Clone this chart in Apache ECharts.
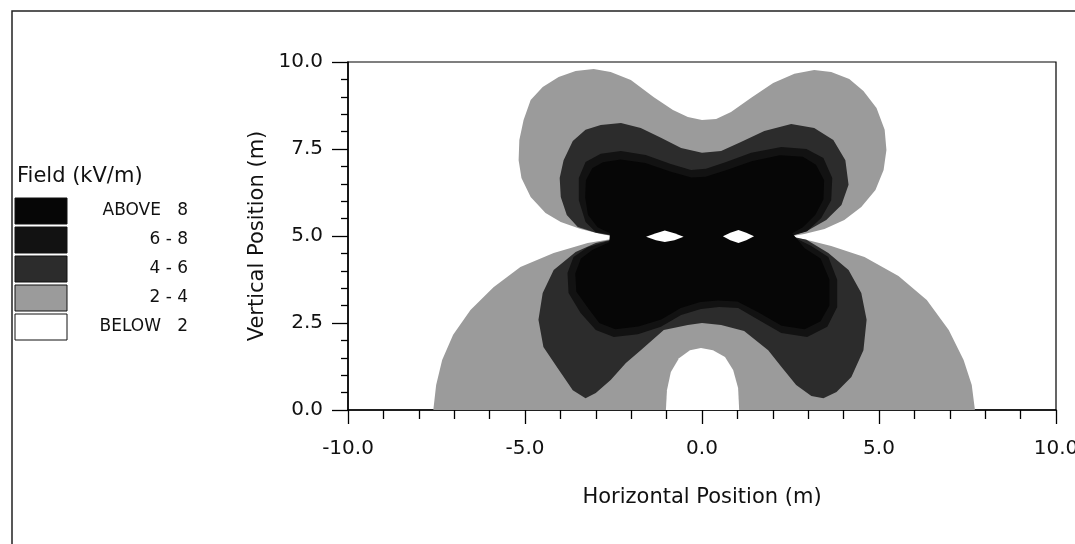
<!DOCTYPE html>
<html><head><meta charset="utf-8">
<script src="https://cdn.jsdelivr.net/npm/echarts@6/dist/echarts.min.js"></script>
<style>html,body{margin:0;padding:0;background:#fff}#c{width:1075px;height:544px}</style>
</head><body><div id="c"></div>
<script>
// ---- tick labels ----
const xTickLabels = ['-10.0', '-5.0', '0.0', '5.0', '10.0'];
const yTickLabels = ['0.0', '2.5', '5.0', '7.5', '10.0'];

// ---- legend ----
const legendTitle = 'Field (kV/m)';
const legendLabels = ['ABOVE   8', '6 - 8', '4 - 6', '2 - 4', 'BELOW   2'];
const levelColors = ['#060606', '#121212', '#2c2c2c', '#9b9b9b', '#ffffff'];

// ---- contour regions (data units: metres) ----
const field2to4 = [
  [-2.38,4.97],[-2.86,5.06],[-3.43,5.20],[-3.99,5.40],[-4.42,5.66],[-4.84,6.12],[-5.10,6.67],[-5.18,7.18],
  [-5.16,7.76],[-5.04,8.33],[-4.84,8.91],[-4.50,9.28],[-4.05,9.57],[-3.57,9.74],[-3.06,9.80],[-2.58,9.71],
  [-2.01,9.48],[-1.36,8.99],[-0.82,8.62],[-0.40,8.42],[0.00,8.33],[0.40,8.36],[0.82,8.56],[1.39,8.97],
  [2.01,9.40],[2.61,9.66],[3.17,9.77],[3.65,9.71],[4.16,9.51],[4.56,9.17],[4.93,8.68],[5.16,8.05],
  [5.21,7.47],[5.13,6.90],[4.90,6.32],[4.50,5.83],[4.02,5.46],[3.46,5.20],[2.89,5.06],[2.38,4.97],
  [2.89,4.91],[3.65,4.71],[4.59,4.40],[5.55,3.85],[6.35,3.16],[6.97,2.30],[7.39,1.44],[7.62,0.72],
  [7.71,0.00],[-7.59,0.00],[-7.51,0.72],[-7.34,1.44],[-7.03,2.16],[-6.54,2.87],[-5.89,3.53],[-5.13,4.11],
  [-4.19,4.51],[-3.23,4.80],[-2.38,4.94]
];
const holeBelow2 = [
  [-1.02,0.00],[-0.99,0.57],[-0.88,1.09],[-0.65,1.49],[-0.34,1.72],[-0.03,1.78],[0.31,1.72],[0.65,1.52],
  [0.88,1.15],[1.02,0.63],[1.05,0.00]
];
const field4to6 = [
  [-2.49,5.00],[-3.00,5.09],[-3.51,5.26],[-3.82,5.60],[-3.99,6.12],[-4.02,6.67],[-3.91,7.18],[-3.65,7.73],
  [-3.29,8.05],[-2.86,8.19],[-2.29,8.25],[-1.73,8.10],[-1.16,7.82],[-0.59,7.53],[0.00,7.39],[0.54,7.44],
  [1.10,7.70],[1.76,8.02],[2.52,8.22],[3.17,8.10],[3.71,7.76],[4.05,7.18],[4.14,6.47],[3.94,5.89],
  [3.51,5.46],[2.95,5.14],[2.46,5.00],
  [2.95,4.89],[3.57,4.51],[4.14,4.02],[4.50,3.36],[4.65,2.59],[4.56,1.72],[4.22,0.95],[3.80,0.52],
  [3.43,0.34],[3.09,0.40],[2.66,0.72],[2.24,1.24],[1.87,1.72],[1.19,2.27],[0.54,2.44],[0.00,2.50],
  [-0.40,2.44],[-1.08,2.30],[-1.73,1.72],[-2.15,1.35],[-2.58,0.86],[-3.00,0.49],[-3.29,0.34],[-3.65,0.57],
  [-4.08,1.21],[-4.48,1.81],[-4.62,2.59],[-4.50,3.36],[-4.19,4.02],[-3.57,4.54],[-3.00,4.80],[-2.49,4.91]
];
const field6to8 = [
  [-2.52,5.03],[-3.00,5.11],[-3.29,5.40],[-3.48,6.03],[-3.48,6.67],[-3.29,7.13],[-2.86,7.36],[-2.29,7.44],
  [-1.59,7.33],[-0.88,7.07],[-0.31,6.90],[0.11,6.93],[0.68,7.13],[1.39,7.39],[2.24,7.56],[2.95,7.50],
  [3.43,7.24],[3.68,6.67],[3.65,6.03],[3.37,5.52],[2.97,5.14],[2.52,5.00],
  [3.09,4.71],[3.57,4.40],[3.82,3.74],[3.82,2.96],[3.54,2.39],[2.97,2.10],[2.24,2.21],[1.59,2.59],
  [1.02,2.93],[0.48,2.96],[-0.03,2.90],[-0.59,2.73],[-1.16,2.39],[-1.81,2.18],[-2.49,2.10],[-3.00,2.30],
  [-3.43,2.79],[-3.77,3.36],[-3.80,3.94],[-3.63,4.40],[-3.23,4.68],[-2.52,4.89]
];
const fieldAbove8 = [
  [-2.60,5.08],[-2.95,5.25],[-3.22,5.60],[-3.30,6.10],[-3.28,6.60],[-3.10,6.95],[-2.80,7.12],[-2.30,7.20],
  [-1.60,7.10],[-0.90,6.85],[-0.30,6.68],[0.10,6.70],[0.70,6.90],[1.40,7.15],[2.20,7.32],[2.85,7.28],
  [3.22,7.05],[3.45,6.60],[3.43,6.05],[3.20,5.60],[2.85,5.25],[2.55,5.08],
  [2.90,4.65],[3.35,4.35],[3.60,3.75],[3.60,3.00],[3.35,2.55],[2.90,2.32],[2.25,2.42],[1.60,2.80],
  [1.00,3.12],[0.45,3.15],[-0.05,3.10],[-0.60,2.93],[-1.15,2.60],[-1.80,2.40],[-2.45,2.32],[-2.90,2.50],
  [-3.20,2.90],[-3.55,3.40],[-3.58,3.92],[-3.42,4.35],[-3.10,4.60],[-2.62,4.82]
];
const lensLeft = [
  [-1.58,4.98],[-1.30,5.08],[-1.05,5.16],[-0.78,5.08],[-0.52,4.98],[-0.78,4.88],[-1.05,4.83],[-1.30,4.88]
];
const lensRight = [
  [0.59,4.99],[0.80,5.09],[1.03,5.17],[1.25,5.09],[1.47,4.99],[1.25,4.88],[1.03,4.80],[0.80,4.88]
];

const FONT = '"DejaVu Sans", "Liberation Sans", sans-serif';

function polygonSeries(name, points, color) {
  return {
    type: 'custom', name: name, coordinateSystem: 'cartesian2d', clip: true, silent: true,
    animation: false, data: points, encode: { x: 0, y: 1 },
    renderItem: function (params, api) {
      if (params.dataIndex !== 0) return null;
      return { type: 'polygon', shape: { points: points.map(function (p) { return api.coord(p); }) },
               style: { fill: color, stroke: null } };
    }
  };
}

const chart = echarts.init(document.getElementById('c'), null, { renderer: 'canvas' });

const graphic = [
  { type: 'polyline', shape: { points: [[12, 544], [12, 11], [1075, 11]] },
    style: { stroke: '#222', lineWidth: 1.5, fill: null }, silent: true },
  { type: 'text', x: 17, y: 177, style: { text: legendTitle, font: '21px ' + FONT, fill: '#111',
    textAlign: 'left', textVerticalAlign: 'middle', align: 'left', verticalAlign: 'middle' } }
];
const boxTops = [198, 227, 256, 285, 314];
legendLabels.forEach(function (lab, i) {
  graphic.push({ type: 'rect', shape: { x: 15, y: boxTops[i], width: 52, height: 26 },
    style: { fill: levelColors[i], stroke: '#111', lineWidth: 1 } });
  graphic.push({ type: 'text', x: 188, y: boxTops[i] + 13,
    style: { text: lab, font: '17px ' + FONT, fill: '#111', textAlign: 'right', textVerticalAlign: 'middle',
      align: 'right', verticalAlign: 'middle' } });
});

chart.setOption({
  animation: false,
  backgroundColor: '#ffffff',
  grid: { left: 348, top: 62, width: 708, height: 348, show: true, borderColor: '#000', borderWidth: 1.2,
          backgroundColor: 'transparent', containLabel: false, outerBoundsMode: 'none' },
  xAxis: {
    type: 'value', min: -10, max: 10, interval: 5,
    name: 'Horizontal Position (m)', nameLocation: 'middle', nameGap: 77,
    nameTextStyle: { fontFamily: FONT, fontSize: 21, color: '#111' },
    axisLine: { show: true, onZero: false, lineStyle: { color: '#000', width: 1.5 } },
    axisTick: { show: true, inside: false, length: 14, lineStyle: { color: '#000', width: 1.3 } },
    minorTick: { show: true, splitNumber: 5, length: 9, lineStyle: { color: '#000', width: 1.3 } },
    splitLine: { show: false },
    axisLabel: { margin: 29, fontFamily: FONT, fontSize: 20, color: '#111',
      formatter: function (v) { return xTickLabels[Math.round((v + 10) / 5)]; } }
  },
  yAxis: {
    type: 'value', min: 0, max: 10, interval: 2.5,
    name: 'Vertical Position (m)', nameLocation: 'middle', nameGap: 80,
    nameTextStyle: { fontFamily: FONT, fontSize: 21, color: '#111' },
    axisLine: { show: true, onZero: false, lineStyle: { color: '#000', width: 1.5 } },
    axisTick: { show: true, inside: false, length: 16, lineStyle: { color: '#000', width: 1.3 } },
    minorTick: { show: true, splitNumber: 5, length: 7, lineStyle: { color: '#000', width: 1.3 } },
    splitLine: { show: false },
    axisLabel: { margin: 25, fontFamily: FONT, fontSize: 20, color: '#111',
      formatter: function (v) { return yTickLabels[Math.round(v / 2.5)]; } }
  },
  graphic: graphic,
  series: [
    polygonSeries('2 - 4', field2to4, levelColors[3]),
    polygonSeries('BELOW 2 (hole)', holeBelow2, levelColors[4]),
    polygonSeries('4 - 6', field4to6, levelColors[2]),
    polygonSeries('6 - 8', field6to8, levelColors[1]),
    polygonSeries('ABOVE 8', fieldAbove8, levelColors[0]),
    polygonSeries('BELOW 2 (left lens)', lensLeft, levelColors[4]),
    polygonSeries('BELOW 2 (right lens)', lensRight, levelColors[4])
  ]
});
</script></body></html>
